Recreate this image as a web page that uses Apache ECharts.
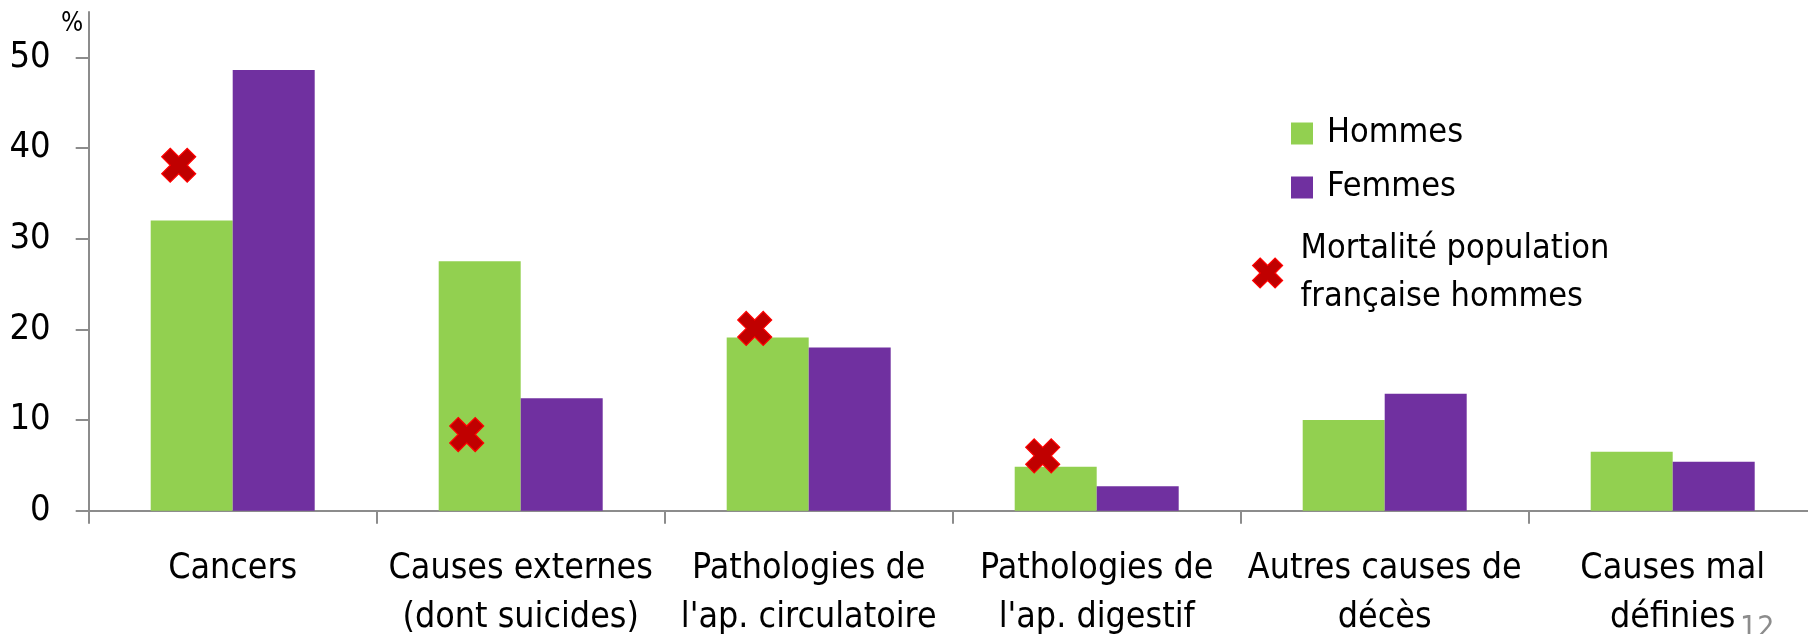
<!DOCTYPE html>
<html>
<head>
<meta charset="utf-8">
<script src="https://cdn.jsdelivr.net/npm/echarts@6/dist/echarts.min.js"></script>
<style>
  html, body { margin: 0; padding: 0; background: #fff; }
  #chart { width: 1808px; height: 634px; }
</style>
</head>
<body>
<div id="chart"></div>
<script>
const categories = [
  'Cancers',
  'Causes externes\n(dont suicides)',
  'Pathologies de\nl\'ap. circulatoire',
  'Pathologies de\nl\'ap. digestif',
  'Autres causes de\ndécès',
  'Causes mal\ndéfinies'
];
const hommes = [32.0, 27.5, 19.1, 4.85, 10.0, 6.5];
const femmes = [48.6, 12.4, 18.0, 2.7, 12.9, 5.4];
const mortalitePop = [38.1, 8.4, 20.1, 6.05, null, null];
const yTicks = [0, 10, 20, 30, 40, 50];

const FONT = "'Liberation Sans Narrow', 'Arial Narrow', 'DejaVu Sans Condensed', sans-serif";
const AXIS_GRAY = '#8c8c8c';
const CROSS = 'path://M2.5,0 L5,2.5 L7.5,0 L10,2.5 L7.5,5 L10,7.5 L7.5,10 L5,7.5 L2.5,10 L0,7.5 L2.5,5 L0,2.5 Z';

const chart = echarts.init(document.getElementById('chart'), null, { renderer: 'canvas' });
chart.setOption({
  animation: false,
  backgroundColor: '#ffffff',
  textStyle: { fontFamily: FONT },
  grid: { left: 88.7, right: -8.7, top: 12, bottom: 123.3, containLabel: false, outerBoundsMode: 'none' },
  xAxis: {
    type: 'category',
    data: categories,
    axisLine: { lineStyle: { color: AXIS_GRAY, width: 2 } },
    axisTick: { show: true, length: 13, lineStyle: { color: AXIS_GRAY, width: 2 } },
    axisLabel: {
      interval: 0, margin: 34, color: '#000', fontSize: 35.5, lineHeight: 49,
      fontFamily: FONT, align: 'center'
    },
    splitLine: { show: false }
  },
  yAxis: {
    type: 'value',
    min: 0, max: 55, interval: 10,
    axisLine: { show: true, lineStyle: { color: AXIS_GRAY, width: 2 } },
    axisTick: { show: true, length: 13, customValues: yTicks, lineStyle: { color: AXIS_GRAY, width: 2 } },
    axisLabel: { customValues: yTicks, margin: 38, color: '#000', fontSize: 36, fontFamily: FONT },
    splitLine: { show: false }
  },
  legend: [
    {
      data: [{ name: 'Hommes', icon: 'rect' }, { name: 'Femmes', icon: 'rect' }],
      orient: 'vertical',
      left: 1291, top: 109.5,
      padding: 0,
      itemWidth: 22, itemHeight: 22, itemGap: 6,
      selectedMode: false,
      textStyle: { fontSize: 34, lineHeight: 48, color: '#000', fontFamily: FONT, padding: [0, 0, 0, 9] }
    },
    {
      data: [{ name: 'Mortalité population française hommes', icon: CROSS,
               itemStyle: { color: '#c00000', borderColor: '#ff0000', borderWidth: 1.2 } }],
      orient: 'vertical',
      left: 1252, top: 225,
      padding: 0,
      itemWidth: 30, itemHeight: 30,
      selectedMode: false,
      formatter: function () { return 'Mortalité population\nfrançaise hommes'; },
      textStyle: { fontSize: 34, lineHeight: 48, color: '#000', fontFamily: FONT, padding: [0, 0, 0, 13] }
    }
  ],
  graphic: [
    { type: 'text', left: 61, top: 11, style: { text: '%', fontSize: 26, fill: '#000', fontFamily: FONT } },
    { type: 'text', left: 1740, top: 614, style: { text: '12', fontSize: 30, fill: '#8c8c8c', fontFamily: FONT } }
  ],
  series: [
    {
      name: 'Hommes', type: 'bar', data: hommes,
      barWidth: 82, barGap: '0%',
      itemStyle: { color: '#92d050' }
    },
    {
      name: 'Femmes', type: 'bar', data: femmes,
      barWidth: 82, barGap: '0%',
      itemStyle: { color: '#7030a0' }
    },
    {
      name: 'Mortalité population française hommes', type: 'scatter', data: mortalitePop,
      symbol: CROSS, symbolSize: 34, symbolOffset: [-54, 0],
      itemStyle: { color: '#c00000', borderColor: '#ff0000', borderWidth: 1.2, opacity: 1 },
      z: 5
    }
  ]
});
</script>
</body>
</html>
